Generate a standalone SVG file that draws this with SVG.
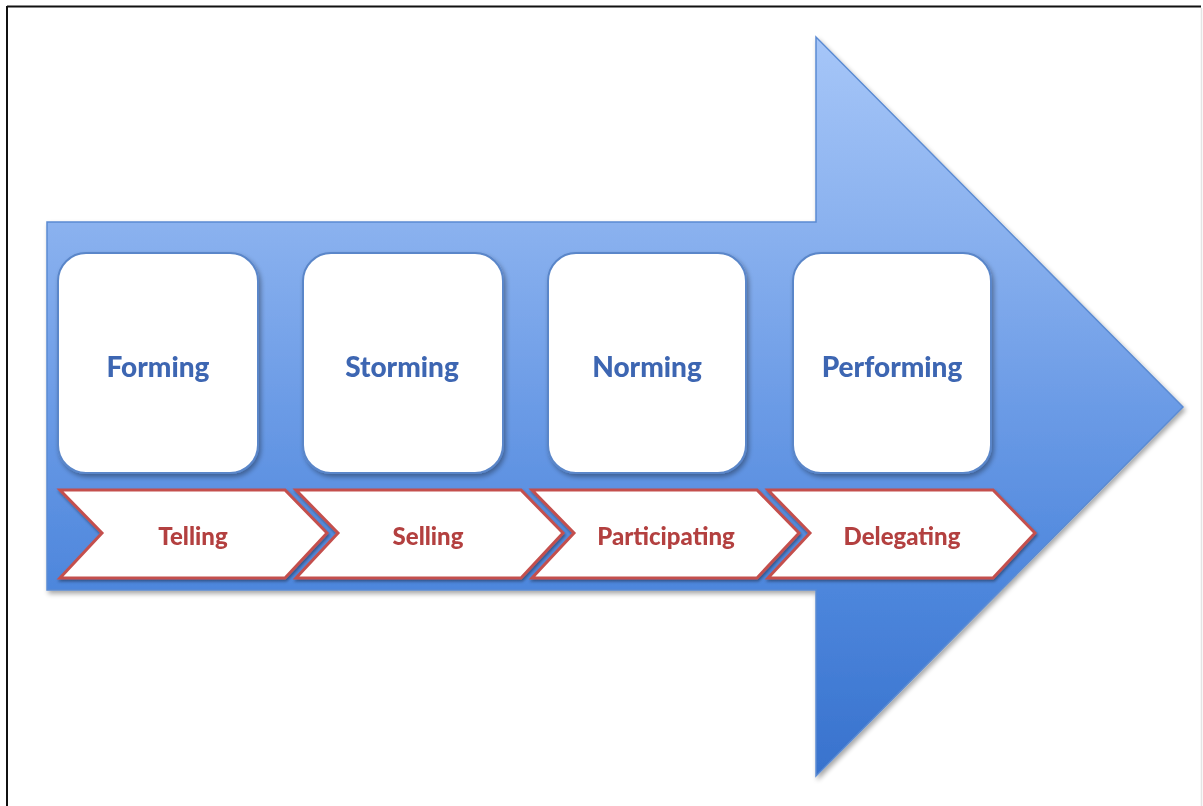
<svg xmlns="http://www.w3.org/2000/svg" width="1203" height="806" viewBox="0 0 1203 806">
  <defs>
    <linearGradient id="arrowFill" x1="0" y1="37" x2="0" y2="776" gradientUnits="userSpaceOnUse">
      <stop offset="0" stop-color="#a6c6f8"/>
      <stop offset="0.25" stop-color="#8bb2ef"/>
      <stop offset="0.5" stop-color="#6b9be6"/>
      <stop offset="0.75" stop-color="#4d86dc"/>
      <stop offset="1" stop-color="#3872cd"/>
    </linearGradient>
    <filter id="softShadow" x="-5%" y="-5%" width="115%" height="115%">
      <feGaussianBlur in="SourceAlpha" stdDeviation="2.5"/>
      <feOffset dx="2" dy="3" result="blur"/>
      <feComponentTransfer><feFuncA type="linear" slope="0.35"/></feComponentTransfer>
      <feMerge><feMergeNode/><feMergeNode in="SourceGraphic"/></feMerge>
    </filter>
    <filter id="chevShadow" x="-5%" y="-10%" width="115%" height="125%">
      <feGaussianBlur in="SourceAlpha" stdDeviation="1.5"/>
      <feOffset dx="1" dy="2" result="blur"/>
      <feComponentTransfer><feFuncA type="linear" slope="0.4"/></feComponentTransfer>
      <feMerge><feMergeNode/><feMergeNode in="SourceGraphic"/></feMerge>
    </filter>
    <style>
      .stage rect { fill: #ffffff; stroke: #5a86c9; stroke-width: 2; }
      .stage text { font-family: Lato, "Open Sans", "Liberation Sans", sans-serif; font-weight: 900; font-size: 28px; fill: #3e66b2; text-anchor: middle; }
      .style polygon { fill: #ffffff; stroke: #c4504e; stroke-width: 3; stroke-linejoin: miter; }
      .style text { font-family: Lato, "Open Sans", "Liberation Sans", sans-serif; font-weight: 900; font-size: 24px; fill: #b3403f; text-anchor: middle; }
    </style>
  </defs>

  <!-- page frame -->
  <rect x="0" y="0" width="1203" height="806" fill="#ffffff"/>
  <line x1="7" y1="6.5" x2="1201" y2="6.5" stroke="#111111" stroke-width="2"/>
  <line x1="7" y1="6" x2="7" y2="806" stroke="#111111" stroke-width="2"/>
  <line x1="1201.5" y1="8" x2="1201.5" y2="806" stroke="#e4e4e4" stroke-width="1.5"/>

  <!-- big block arrow -->
  <g id="arrow" filter="url(#softShadow)">
    <polygon points="47,222 816,222 816,37 1183,407 816,776 816,590 47,590" fill="url(#arrowFill)" stroke="#5b8bd2" stroke-width="1.5" stroke-linejoin="miter"/>
  </g>

  <!-- team development stages -->
  <g id="stage-forming" class="stage" filter="url(#softShadow)">
    <rect x="58" y="253" width="200" height="220" rx="28" ry="28"/>
    <text x="158" y="377">Forming</text>
  </g>
  <g id="stage-storming" class="stage" filter="url(#softShadow)">
    <rect x="303" y="253" width="200" height="220" rx="28" ry="28"/>
    <text x="402" y="377">Storming</text>
  </g>
  <g id="stage-norming" class="stage" filter="url(#softShadow)">
    <rect x="548" y="253" width="198" height="220" rx="28" ry="28"/>
    <text x="647" y="377">Norming</text>
  </g>
  <g id="stage-performing" class="stage" filter="url(#softShadow)">
    <rect x="793" y="253" width="198" height="220" rx="28" ry="28"/>
    <text x="892" y="377">Performing</text>
  </g>

  <!-- leadership styles -->
  <g id="style-telling" class="style" filter="url(#chevShadow)">
    <polygon points="60,490 285,490 327,533 285,578 60,578 102,533"/>
    <text x="193" y="545">Telling</text>
  </g>
  <g id="style-selling" class="style" filter="url(#chevShadow)">
    <polygon points="296,490 521,490 563,533 521,578 296,578 338,533"/>
    <text x="428" y="545">Selling</text>
  </g>
  <g id="style-participating" class="style" filter="url(#chevShadow)">
    <polygon points="532,490 757,490 799,533 757,578 532,578 574,533"/>
    <text x="666" y="545">Participating</text>
  </g>
  <g id="style-delegating" class="style" filter="url(#chevShadow)">
    <polygon points="768,490 993,490 1035,533 993,578 768,578 810,533"/>
    <text x="902" y="545">Delegating</text>
  </g>

  <g id="connectors"/>
</svg>
